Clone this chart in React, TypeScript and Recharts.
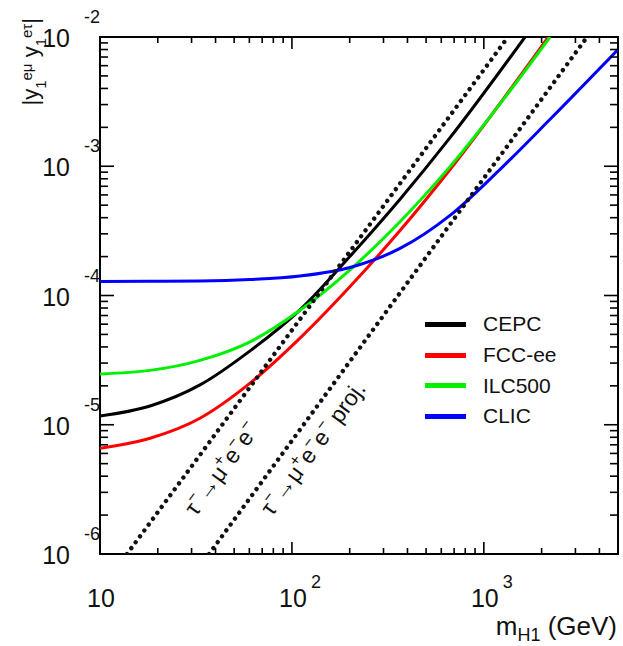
import React from 'react';
import { LineChart, Line, XAxis, YAxis, ReferenceArea, ReferenceDot, Legend } from 'recharts';

const FONT = '"Liberation Sans", Arial, Helvetica, sans-serif';

// axes
const X_DOMAIN = [10, 5000];
const X_TICKS = [10, 20, 30, 40, 50, 60, 70, 80, 90, 100, 200, 300, 400, 500, 600, 700, 800, 900, 1000, 2000, 3000, 4000];
const Y_DOMAIN = [1e-6, 1e-2];
const Y_TICKS = [
  1e-6, 2e-6, 3e-6, 4e-6, 5e-6, 6e-6, 7e-6, 8e-6, 9e-6,
  1e-5, 2e-5, 3e-5, 4e-5, 5e-5, 6e-5, 7e-5, 8e-5, 9e-5,
  1e-4, 2e-4, 3e-4, 4e-4, 5e-4, 6e-4, 7e-4, 8e-4, 9e-4,
  1e-3, 2e-3, 3e-3, 4e-3, 5e-3, 6e-3, 7e-3, 8e-3, 9e-3, 1e-2,
];

// CEPC (black)
const cepcMass = [10, 18.23, 33.2, 60.5, 110.2, 200.8, 365.8, 666.6, 1639];
const cepcValue = [1.169e-5, 1.398e-5, 2.033e-5, 3.729e-5, 7.75e-5, 2.012e-4, 5.56e-4, 1.665e-3, 1e-2];
// FCC-ee (red)
const fccMass = [10, 18.23, 33.2, 60.5, 110.2, 200.8, 365.8, 666.6, 2168];
const fccValue = [6.577e-6, 7.86e-6, 1.123e-5, 2.097e-5, 4.677e-5, 1.172e-4, 3.182e-4, 9.445e-4, 1e-2];
// ILC500 (green)
const ilcMass = [10, 18.23, 33.2, 60.5, 110.2, 200.8, 365.8, 666.6, 2213];
const ilcValue = [2.475e-5, 2.634e-5, 3.148e-5, 4.38e-5, 7.68e-5, 1.581e-4, 3.724e-4, 9.93e-4, 1e-2];
// CLIC (blue)
const clicMass = [10, 18.23, 33.2, 60.5, 110.2, 200.8, 365.8, 666.6, 1215, 2213, 5000];
const clicValue = [1.283e-4, 1.288e-4, 1.295e-4, 1.33e-4, 1.416e-4, 1.648e-4, 2.312e-4, 4.166e-4, 9.46e-4, 2.308e-3, 8.0e-3];
// tau -> mu e e limits (dotted)
const tauMass = [13.82, 1336];
const tauValue = [1e-6, 1e-2];
const tauProjMass = [37.0, 3450];
const tauProjValue = [1e-6, 1e-2];

// label anchors for the dotted lines
const tauLabelAt = { m: 31.6, v: 1.93e-6 };
const tauProjLabelAt = { m: 78.8, v: 1.93e-6 };

const SERIES = [
  { name: 'CEPC', color: '#000000', mass: cepcMass, value: cepcValue },
  { name: 'FCC-ee', color: '#ff0000', mass: fccMass, value: fccValue },
  { name: 'ILC500', color: '#00f000', mass: ilcMass, value: ilcValue },
  { name: 'CLIC', color: '#0000ff', mass: clicMass, value: clicValue },
];
const SERIES_NAMES = SERIES.map((s) => s.name);

const toRows = (mass: number[], value: number[]) => mass.map((m, i) => ({ m, v: value[i] }));

const W = 623;
const H = 646;
const MARGIN = { top: 37, right: 5, bottom: 42, left: 40 };
const X_AXIS_H = 50;
const Y_AXIS_W = 60;
const PLOT_W = W - MARGIN.left - MARGIN.right - Y_AXIS_W;
const PLOT_H = H - MARGIN.top - MARGIN.bottom - X_AXIS_H;

const isDecade = (v: number) => {
  const l = Math.log10(v);
  return Math.abs(l - Math.round(l)) < 1e-6;
};

const XTick = (props: any) => {
  const { x, y, payload } = props;
  const v = payload.value;
  const major = isDecade(v);
  const len = major ? 12 : 6;
  const e = Math.round(Math.log10(v));
  return (
    <g>
      <line x1={x} y1={y} x2={x} y2={y - len} stroke="#000" strokeWidth={1.6} />
      <line x1={x} y1={y - PLOT_H} x2={x} y2={y - PLOT_H + len} stroke="#000" strokeWidth={1.6} />
      {major && (
        <text x={x + 1} y={y + 53} textAnchor="middle" fontSize={25} fontFamily={FONT} fill="#111">
          10
        </text>
      )}
      {major && e > 1 && (
        <text x={x + 19} y={y + 34} textAnchor="start" fontSize={18} fontFamily={FONT} fill="#111">
          {e}
        </text>
      )}
    </g>
  );
};

const YTick = (props: any) => {
  const { x, y, payload } = props;
  const v = payload.value;
  const major = isDecade(v);
  const len = major ? 14 : 8;
  const e = Math.round(Math.log10(v));
  return (
    <g>
      <line x1={x} y1={y} x2={x + len} y2={y} stroke="#000" strokeWidth={1.6} />
      <line x1={x + PLOT_W} y1={y} x2={x + PLOT_W - len} y2={y} stroke="#000" strokeWidth={1.6} />
      {major && (
        <text x={x - 30} y={y + 10} textAnchor="end" fontSize={25} fontFamily={FONT} fill="#111">
          10
        </text>
      )}
      {major && (
        <text x={x} y={y - 14} textAnchor="end" fontSize={18} fontFamily={FONT} fill="#111">
          {String(e)}
        </text>
      )}
    </g>
  );
};

const XTitle = (props: any) => {
  const vb = props.viewBox;
  return (
    <text x={vb.x + vb.width - 1} y={vb.y + 81} textAnchor="end" fontFamily={FONT} fontSize={26} fill="#111">
      <tspan>m</tspan>
      <tspan fontSize={18} dy={6}>H1</tspan>
      <tspan dy={-6}> (GeV)</tspan>
    </text>
  );
};

const YTitle = (props: any) => {
  const vb = props.viewBox;
  const tx = vb.x + vb.width - 62.5;
  const ty = vb.y - 19;
  return (
    <text transform={`translate(${tx},${ty}) rotate(-90)`} textAnchor="end" fontFamily={FONT} fontSize={22} fill="#111">
      <tspan>|y</tspan>
      <tspan fontSize={15} dy={8}>1</tspan>
      <tspan fontSize={15} dy={-14}>eμ</tspan>
      <tspan dy={6}> y</tspan>
      <tspan fontSize={15} dy={8}>1</tspan>
      <tspan fontSize={15} dy={-14}>eτ</tspan>
      <tspan dy={6}>|</tspan>
    </text>
  );
};

const TauLabel = ({ cx, cy, proj }: any) => (
  <text transform={`translate(${cx},${cy}) rotate(-53.6)`} fontFamily={FONT} fontSize={23} fill="#111">
    <tspan>τ</tspan>
    <tspan fontSize={16} dy={-10}>−</tspan>
    <tspan dy={10}>→μ</tspan>
    <tspan fontSize={16} dy={-10}>+</tspan>
    <tspan dy={10}>e</tspan>
    <tspan fontSize={16} dy={-10}>−</tspan>
    <tspan dy={10}>e</tspan>
    <tspan fontSize={16} dy={-10}>−</tspan>
    {proj ? <tspan dy={10}> proj.</tspan> : null}
  </text>
);

const renderLegend = (props: any) => {
  const payload = props.payload || [];
  const items = SERIES_NAMES.map((n) => payload.find((p: any) => p.value === n)).filter(Boolean);
  return (
    <div style={{ fontFamily: FONT, fontSize: 21, color: '#111' }}>
      {items.map((p: any) => (
        <div key={p.value} style={{ display: 'flex', alignItems: 'center', height: 30.7 }}>
          <div style={{ width: 41, height: 5, background: p.color, marginRight: 17 }} />
          <span>{p.value}</span>
        </div>
      ))}
    </div>
  );
};

export default function App() {
  return (
    <div style={{ position: 'absolute', left: 0, top: 0, width: W, height: H, background: '#fff' }}>
      <LineChart width={W} height={H} margin={MARGIN}>
        <XAxis
          type="number"
          dataKey="m"
          scale="log"
          domain={X_DOMAIN}
          ticks={X_TICKS}
          allowDataOverflow
          interval={0}
          height={X_AXIS_H}
          tickSize={0}
          tickMargin={0}
          axisLine={false}
          tickLine={false}
          tick={(p: any) => <XTick {...p} />}
          label={{ content: (p: any) => <XTitle {...p} /> }}
        />
        <YAxis
          type="number"
          scale="log"
          domain={Y_DOMAIN}
          ticks={Y_TICKS}
          allowDataOverflow
          interval={0}
          width={Y_AXIS_W}
          tickSize={0}
          tickMargin={0}
          axisLine={false}
          tickLine={false}
          tick={(p: any) => <YTick {...p} />}
          label={{ content: (p: any) => <YTitle {...p} /> }}
        />
        <ReferenceArea
          x1={X_DOMAIN[0]}
          x2={X_DOMAIN[1]}
          y1={Y_DOMAIN[0]}
          y2={Y_DOMAIN[1]}
          fill="#fff"
          fillOpacity={0}
          stroke="#000"
          strokeWidth={2}
          ifOverflow="visible"
        />
        {SERIES.map((s) => (
          <Line
            key={s.name}
            data={toRows(s.mass, s.value)}
            dataKey="v"
            name={s.name}
            type="monotone"
            stroke={s.color}
            strokeWidth={3}
            dot={false}
            activeDot={false}
            isAnimationActive={false}
          />
        ))}
        <Line
          data={toRows(tauMass, tauValue)}
          dataKey="v"
          name="tau"
          type="linear"
          stroke="#111"
          strokeWidth={4.4}
          strokeLinecap="round"
          strokeDasharray="0.01 7.3"
          dot={false}
          activeDot={false}
          legendType="none"
          isAnimationActive={false}
        />
        <Line
          data={toRows(tauProjMass, tauProjValue)}
          dataKey="v"
          name="tauProj"
          type="linear"
          stroke="#111"
          strokeWidth={4.4}
          strokeLinecap="round"
          strokeDasharray="0.01 7.3"
          dot={false}
          activeDot={false}
          legendType="none"
          isAnimationActive={false}
        />
        <ReferenceDot
          x={tauLabelAt.m}
          y={tauLabelAt.v}
          r={0}
          ifOverflow="visible"
          shape={(p: any) => <TauLabel cx={p.cx} cy={p.cy} proj={false} />}
        />
        <ReferenceDot
          x={tauProjLabelAt.m}
          y={tauProjLabelAt.v}
          r={0}
          ifOverflow="visible"
          shape={(p: any) => <TauLabel cx={p.cx} cy={p.cy} proj={true} />}
        />
        <Legend
          layout="vertical"
          align="center"
          verticalAlign="middle"
          content={renderLegend}
          wrapperStyle={{ position: 'absolute', left: 425, top: 309, width: 'auto', height: 'auto' }}
        />
      </LineChart>
    </div>
  );
}
